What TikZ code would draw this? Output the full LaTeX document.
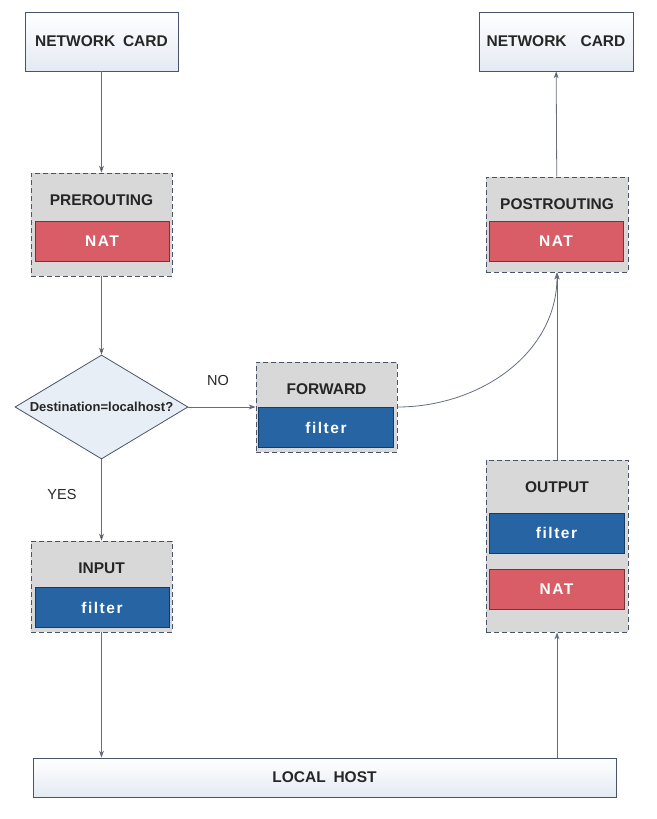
\documentclass[tikz,border=0pt]{standalone}
\usepackage{fontspec}
\setmainfont{Liberation Sans}
\newfontfamily\boxfont[LetterSpace=10]{Liberation Sans}
\usepackage{tikz}
\usetikzlibrary{shapes.geometric,arrows.meta}
\definecolor{lineblue}{HTML}{4A5468}
\definecolor{cardfill}{HTML}{E4EAF3}
\definecolor{chaingrey}{HTML}{D8D8D8}
\definecolor{natred}{HTML}{D95D66}
\definecolor{filterblue}{HTML}{2664A3}
\definecolor{decfill}{HTML}{E8EEF6}
\tikzset{
every path/.style={line width=0.8pt}
, every node/.style={font=\fontsize{15.5}{18}\selectfont\bfseries, text=black!85}
, cardbox/.style={draw=lineblue,top color=white,bottom color=cardfill,minimum height=59}
, chainbox/.style={draw=lineblue,dash pattern=on 5pt off 3pt,fill=chaingrey}
, natbox/.style={draw=natred!55!black,fill=natred,text=white,minimum width=134,minimum height=40,font=\fontsize{15.5}{18}\selectfont\boxfont\bfseries}
, filterbox/.style={draw=filterblue!60!black,fill=filterblue,text=white,minimum width=135,minimum height=40,font=\fontsize{15.5}{18}\selectfont\boxfont\bfseries}
, decision/.style={diamond,draw=lineblue,fill=decfill,aspect=1.66,inner sep=0,minimum width=173,minimum height=104,font=\fontsize{13}{15}\selectfont\bfseries}
, flow/.style={draw=lineblue!85,-{Stealth[length=7pt,width=5pt]}}
, answer/.style={font=\fontsize{14.5}{17}\selectfont}}

\begin{document}
\begin{tikzpicture}[x=1pt,y=-1pt]
\useasboundingbox (0,0) rectangle (656,819);
\node[cardbox,minimum width=153] at (101.5, 41.5) (cardin) {NETWORK\hspace{0.5em}CARD};
\node[cardbox,minimum width=154] at (556, 41.5) (cardout) {NETWORK\hspace{0.9em}CARD};
\node[chainbox,minimum width=141,minimum height=103] at (101.5, 224.5) (pre) {};
\node at (101.5, 200) (prelabel) {PREROUTING};
\node[natbox] at (102, 241.5) (prenat) {NAT};
\node[decision] at (101.5, 407) (dest) {Destination=localhost?};
\node[chainbox,minimum width=141,minimum height=90] at (326.5, 407) (fwd) {};
\node at (326.5, 389) (fwdlabel) {FORWARD};
\node[filterbox] at (326, 427.5) (fwdfilter) {filter};
\node[chainbox,minimum width=142,minimum height=95] at (557, 224.5) (post) {};
\node at (557, 204) (postlabel) {POSTROUTING};
\node[natbox] at (556, 241.5) (postnat) {NAT};
\node[chainbox,minimum width=142,minimum height=172] at (557, 546) (out) {};
\node at (557, 487) (outlabel) {OUTPUT};
\node[filterbox] at (556.5, 533) (outfilter) {filter};
\node[natbox,minimum width=135] at (556.5, 589) (outnat) {NAT};
\node[chainbox,minimum width=141,minimum height=91] at (101.5, 586.5) (inp) {};
\node at (101.5, 568) (inplabel) {INPUT};
\node[filterbox,minimum width=134] at (102, 607.5) (inpfilter) {filter};
\node[cardbox,minimum width=583,minimum height=39] at (324.5, 777.5) (host) {LOCAL\hspace{0.5em}HOST};
\node[answer] at (218, 381) (no) {NO};
\node[answer] at (62, 495) (yes) {YES};
\draw [flow] (cardin) edge (pre);
\draw [flow] (pre) edge (dest);
\draw [flow] (dest) edge (fwd);
\draw [flow] (dest) edge (inp);
\draw [flow] (inp.south) -- (inp.south |- host.north);
\draw [flow] (host.north -| out.south) -- (out.south);
\draw [flow] (out) edge (post);
\draw [flow] (fwd.east) to [out=0,in=-90] (post.south);
\draw [flow] (post) edge (cardout);
\end{tikzpicture}
\end{document}
